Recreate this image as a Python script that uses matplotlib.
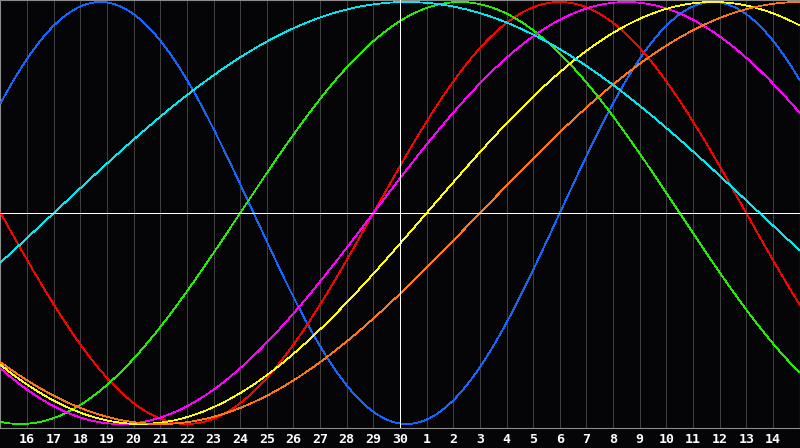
"""
Biorhythm chart: seven cycles over 30 days, today in the middle
"""

import numpy as np
from matplotlib import pyplot as plt, rcParams as rcP

rcP["font.family"] = "DejaVu Sans Mono"

# Day labels under each grid line (left edge is day 15 of previous month)
day_labels = ["16", "17", "18", "19", "20", "21", "22", "23", "24", "25", "26", "27", "28", "29", "30",
              "1", "2", "3", "4", "5", "6", "7", "8", "9", "10", "11", "12", "13", "14"]

# Cycle periods in days
periods = [23, 28, 33, 38, 43, 48, 53]

# Day within each cycle at the left edge of the chart
phases = [2, 14, 24, 24, 27, 30, 51]

# Line colours for each cycle
colors = ["#1466ff", "#ff0000", "#22ee00", "#ff00ff", "#ffff00", "#ff7711", "#00e8f0"]

today_index = 15  # position of "30"
n_days = 30

bg = "#050508"

fig = plt.figure(figsize=(8, 4.48), dpi=100, facecolor=bg)
ax = fig.add_axes([0.0006, 20 / 448, 0.9988, 428 / 448])
ax.set_facecolor(bg)

# Vertical day grid
for i in range(1, n_days):
    if i != today_index:
        ax.axvline(i, color="#404040", lw=0.7, zorder=1, antialiased=False)

# Cycle curves
t = np.linspace(0, n_days, 1600)
for p, ph, c in zip(periods, phases, colors):
    ax.plot(t, np.sin(2 * np.pi * (t + ph) / p), color=c, lw=0.55, zorder=3, antialiased=False)

# Zero line and today line
ax.axhline(0, color="white", lw=0.7, zorder=4, antialiased=False)
ax.axvline(today_index, color="white", lw=0.7, zorder=4, antialiased=False)

ax.set_xlim(0, n_days)
ax.set_ylim(-1.019, 1.0095)

ax.set_xticks(range(1, n_days))
ax.set_xticklabels(day_labels, color="white", fontsize=9.5, fontweight="bold")
ax.tick_params(axis="x", length=0, pad=3.5)
ax.set_yticks([])

for s in ax.spines.values():
    s.set_color("#8c8c8c")
    s.set_linewidth(0.8)

fig.savefig("out.png", dpi=100, facecolor=bg)
